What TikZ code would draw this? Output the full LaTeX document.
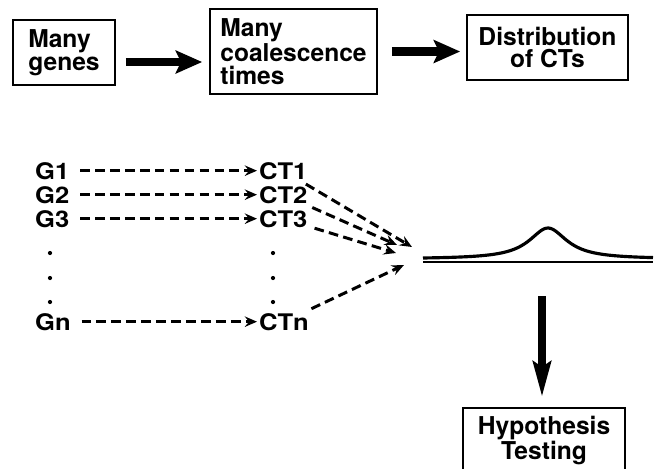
\documentclass[tikz,border=0pt]{standalone}
\usepackage{fontspec}
\setmainfont{TeX Gyre Heros}
\usepackage{graphicx}
\usepackage{tikz}
\usetikzlibrary{arrows.meta, positioning}

\newcommand{\widelbl}[1]{\scalebox{1.12}[1]{#1}}

\tikzset{
  stagebox/.style={draw, line width=1pt, inner sep=2pt,
    font=\fontsize{14}{13}\selectfont\bfseries},
  fatarrow/.style={line width=5pt, -{Stealth[length=15pt, width=13pt, inset=3pt]}},
  dasharrow/.style={line width=1.7pt, dash pattern=on 5.5pt off 3pt,
    -{Stealth[length=7pt, width=6pt, inset=2.5pt]}},
  genelbl/.style={font=\fontsize{13}{14}\selectfont\bfseries,
    inner sep=1pt, anchor=base west}
}

\begin{document}
\begin{tikzpicture}[x=0.02cm, y=-0.02cm]
    \useasboundingbox (0,0) rectangle (654,468);

    % 上排流程
    \node[stagebox, minimum width=2.04cm, minimum height=1.3cm, align=left] (genes) at (64,52.5) {Many\\genes};
    \node[stagebox, minimum width=3.34cm, minimum height=1.7cm, align=left] (times) at (293.5,51.5) {Many\\coalescence\\times};
    \node[stagebox, minimum width=3.22cm, minimum height=1.3cm, align=center] (dist) at (547.5,47.5) {Distribution\\of CTs};
    \draw[fatarrow, shorten <=0.2cm, shorten >=0.14cm] ([yshift=-0.19cm]genes.east) -- ([yshift=-0.19cm]genes.east -| times.west);
    \draw[fatarrow, shorten <=0.28cm, shorten >=0.12cm] (times.east) -- (times.east -| dist.west);

    % 基因与合并时间
    \foreach \g/\c/\y in {G1/CT1/179, G2/CT2/203, G3/CT3/227, Gn/CTn/330} {
        \node[genelbl] (\g) at (33,\y) {\widelbl{\g}};
        \node[genelbl] (\c) at (257,\y) {\widelbl{\c}};
        \draw[dasharrow, shorten <=5pt] (\g) -- (\c);
    }
    \foreach \y in {253, 278, 302} {
        \fill (50,\y) circle[radius=1.2pt];
        \fill (273,\y) circle[radius=1.2pt];
    }

    % 汇聚箭头
    \coordinate (tip1) at (412,247);
    \coordinate (tip2) at (397,245);
    \coordinate (tip3) at (396,253);
    \coordinate (tipn) at (404,265);
    \foreach \c/\t in {CT1/tip1, CT2/tip2, CT3/tip3, CTn/tipn}
        \draw[dasharrow, shorten <=3pt] (\c) -- (\t);

    % 分布曲线
    \draw[line width=1pt] (423,262) -- (653,262);
    \draw[line width=1.8pt, domain=423:653, samples=120] plot (\x, {259 - 31/(1+((\x-548)/23)^2)});

    % 假设检验
    \coordinate (down) at (542,296);
    \node[stagebox, minimum width=3.24cm, anchor=north, inner ysep=4.5pt, align=center] (test) at (544,407) {Hypothesis\\Testing};
    \draw[line width=5pt, -{Stealth[length=20pt, width=10pt, inset=3pt]}, shorten >=0.2cm] (down) -- (down |- test.north);
\end{tikzpicture}
\end{document}
